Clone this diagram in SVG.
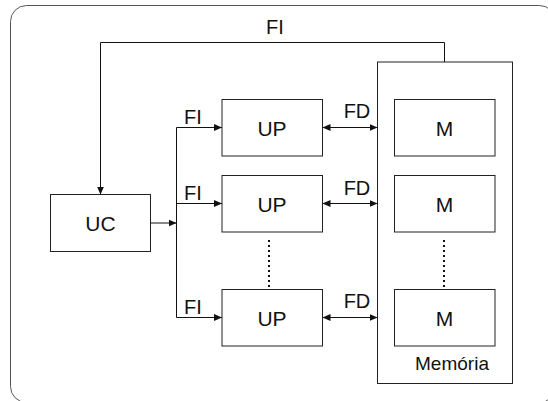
<svg xmlns="http://www.w3.org/2000/svg" width="548" height="401" viewBox="0 0 548 401">
<defs>
<style>
.box{fill:#fff;stroke:#222;stroke-width:1}
.frame{fill:none;stroke:#555;stroke-width:1}
.ln{fill:none;stroke:#111;stroke-width:1}
.dot{fill:none;stroke:#111;stroke-width:2;stroke-dasharray:2 3}
.t{font-family:"Liberation Sans",Arial,sans-serif;font-size:21px;fill:#111;text-anchor:middle}
.l{font-family:"Liberation Sans",Arial,sans-serif;font-size:20px;fill:#111;text-anchor:middle}
.s{font-family:"Liberation Sans",Arial,sans-serif;font-size:19px;fill:#111;text-anchor:middle}
</style>
<marker id="ah" viewBox="0 0 8 8" refX="8" refY="4" markerWidth="8" markerHeight="8" markerUnits="userSpaceOnUse" orient="auto-start-reverse">
<path d="M0,0.5 L8,4 L0,7.5 Z" fill="#111"/>
</marker>
</defs>
<rect x="10.5" y="5.5" width="545" height="397" rx="16" class="frame"/>
<g id="memoria">
<rect x="377.5" y="62" width="135" height="321.5" class="box"/>
<text x="452" y="370" class="s">Memória</text>
</g>
<g id="uc">
<rect x="50.5" y="194.5" width="100" height="57" class="box"/>
<text x="100.5" y="230.5" class="t">UC</text>
</g>
<g id="up1">
<rect x="222" y="99.5" width="100.5" height="56.5" class="box"/>
<text x="272" y="135.5" class="t">UP</text>
</g>
<g id="up2">
<rect x="222" y="175.5" width="100.5" height="56.5" class="box"/>
<text x="272" y="211.5" class="t">UP</text>
</g>
<g id="up3">
<rect x="222" y="289.5" width="100.5" height="56.5" class="box"/>
<text x="272" y="325.5" class="t">UP</text>
</g>
<g id="m1">
<rect x="394.5" y="99.5" width="100.5" height="56.5" class="box"/>
<text x="444.5" y="135.5" class="t">M</text>
</g>
<g id="m2">
<rect x="394.5" y="175.5" width="100.5" height="56.5" class="box"/>
<text x="444.5" y="211.5" class="t">M</text>
</g>
<g id="m3">
<rect x="394.5" y="289.5" width="100.5" height="56.5" class="box"/>
<text x="444.5" y="325.5" class="t">M</text>
</g>
<g id="connectors">
<path d="M444.5,62 V42.5 H100.5 V194.5" class="ln" marker-end="url(#ah)"/>
<path d="M150.5,223 H176.5" class="ln" marker-end="url(#ah)"/>
<path d="M176.5,127.5 V317.5" class="ln"/>
<path d="M176.5,127.5 H222" class="ln" marker-end="url(#ah)"/>
<path d="M176.5,203.5 H222" class="ln" marker-end="url(#ah)"/>
<path d="M176.5,317.5 H222" class="ln" marker-end="url(#ah)"/>
<path d="M322.5,127.5 H377.5" class="ln" marker-start="url(#ah)" marker-end="url(#ah)"/>
<path d="M322.5,203.5 H377.5" class="ln" marker-start="url(#ah)" marker-end="url(#ah)"/>
<path d="M322.5,317.5 H377.5" class="ln" marker-start="url(#ah)" marker-end="url(#ah)"/>
<path d="M269,240 V289" class="dot"/>
<path d="M444,240 V289" class="dot"/>
<text x="275" y="34" class="l">FI</text>
<text x="193" y="124" class="l">FI</text>
<text x="193" y="200" class="l">FI</text>
<text x="193" y="314" class="l">FI</text>
<text x="357" y="118" class="l">FD</text>
<text x="357" y="195" class="l">FD</text>
<text x="357" y="308" class="l">FD</text>
</g>
</svg>
